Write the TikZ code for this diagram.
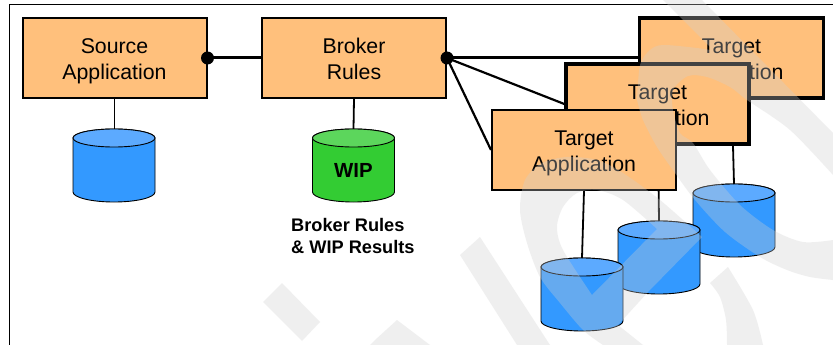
\documentclass[tikz,border=0pt]{standalone}
\usepackage{fontspec}
\setmainfont{Liberation Sans}
\definecolor{boxfill}{HTML}{FFC07C}
\definecolor{dbblue}{HTML}{3399FF}
\definecolor{dbbluetop}{HTML}{5CAAFF}
\definecolor{dbgreen}{HTML}{33CC33}
\definecolor{dbgreentop}{HTML}{5CD65C}
\definecolor{wm}{HTML}{D0D0D0}
\tikzset{
  appbox/.style={draw=black,fill=boxfill,line width=2pt,minimum width=184pt,minimum height=80pt,inner sep=0pt},
  apptext/.style={align=center,font=\fontsize{21.3pt}{26pt}\selectfont,inner sep=0pt,yshift=-3.5pt},
  wire/.style={draw=black,line width=3pt},
  slant wire/.style={draw=black,line width=2.2pt},
  thin wire/.style={draw=black,line width=1.8pt},
  joint/.style={circle,fill=black,minimum size=13pt,inner sep=0pt},
  wmark/.style={fill=wm,fill opacity=.32,draw=none},
}
\newcommand{\dbcyl}[5]{% name, cx, top y, fill, top fill
  \path[draw=black,line width=.9pt,fill=#4]
    (#2-41,#3+9) -- (#2-41,#3+63) arc[start angle=180,end angle=0,x radius=41,y radius=10] -- (#2+41,#3+9) arc[start angle=0,end angle=-180,x radius=41,y radius=9] -- cycle;
  \path[draw=black,line width=.9pt,fill=#5] (#2,#3+9) ellipse[x radius=41,y radius=9];
  \coordinate (#1) at (#2,#3);
}
\begin{document}
\begin{tikzpicture}[x=1pt,y=-1pt]
\useasboundingbox (0,0) rectangle (833,345);
\fill[white] (0,0) rectangle (833,345);
\draw[black,line width=.7pt] (9.5,345) -- (9.5,4.5) -- (833,4.5);

\node[appbox] (src) at (114.5,58) {};
\node[apptext] (srct) at (src.center) {Source\\Application};
\node[appbox] (brk) at (354,58) {};
\node[apptext,yshift=3pt] (brkt) at (brk.center) {Broker\\Rules};
\coordinate (dotA) at (207.5,58);
\coordinate (dotB) at (447,58);

\draw[wire] (dotA) -- (brk.west);
\draw[thin wire] (src.south) -- (114.5,129);
\draw[thin wire] (brk.south) -- (353.5,129);

\node[appbox,line width=3.8pt] (t3) at (731.5,58) {};
\node[apptext] (t3t) at (t3.center) {Target\\Application};
\draw[wire] (dotB) -- (t3.west);
\dbcyl{c3}{734}{184}{dbblue}{dbbluetop}
\draw[thin wire] (733,146) -- (c3);
\node[appbox,line width=3.4pt,minimum width=183pt] (t2) at (657.5,104) {};
\node[apptext] (t2t) at (t2.center) {Target\\Application};
\draw[slant wire] (dotB) -- (t2.west);
\dbcyl{c2}{659}{221}{dbblue}{dbbluetop}
\draw[thin wire] (658.5,180) -- (c2);
\node[appbox] (t1) at (584,150) {};
\node[apptext] (t1t) at (t1.center) {Target\\Application};
\draw[slant wire] (dotB) -- (t1.west);
\dbcyl{c1}{582}{258}{dbblue}{dbbluetop}
\draw[thin wire] (t1.south) -- (c1);

\dbcyl{c0}{114}{129}{dbblue}{dbbluetop}
\dbcyl{cw}{353.5}{129}{dbgreen}{dbgreentop}
\node[font=\bfseries\fontsize{20.4pt}{24pt}\selectfont] (wip) at (353.5,170) {WIP};
\node[anchor=north west,align=left,inner sep=0pt,font=\bfseries\fontsize{18.2pt}{22pt}\selectfont] (cap) at (291,218) {Broker Rules\\\& WIP Results};
\node[joint] (ja) at (dotA) {};
\node[joint] (jb) at (dotB) {};

% watermark
\fill[wmark]
  plot[smooth] coordinates {(637,100) (643,120) (657,147) (675,173) (695,200) (725,232) (760,257) (787,270) (810,277) (833,280)}
  -- plot[smooth] coordinates {(833,240) (803,242) (773,230) (740,205) (710,170) (693,143) (680,133) (673,110) (673,90) (688,76) (707,77) (730,87) (747,100) (790,130) (833,175)}
  -- (833,133) -- (702,0) -- (663,0) -- (710,47)
  -- plot[smooth] coordinates {(710,50) (697,48) (663,45) (650,50) (640,65) (637,100)} -- cycle;
\fill[wmark,even odd rule]
  plot[smooth] coordinates {(603,345) (583,330) (560,303) (540,277) (527,243) (520,210) (525,180) (542,163) (567,157) (597,160) (623,173) (660,200) (702,237)}
  -- (648,292) -- (618,325) -- (643,345) -- cycle
  plot[smooth] coordinates {(592,295) (563,250) (557,227) (563,207) (577,193) (597,190) (623,200) (657,229)} -- cycle;
\fill[wmark] (460,255) -- (480,237) -- (550,345) -- (517,345) -- cycle;
\fill[wmark] (263,302) -- (282,283) -- (320,322) -- (302,341) -- cycle;
\fill[wmark] (375,340) -- (397,320) -- (430,345) -- (370,345) -- cycle;
\fill[wmark] plot[smooth] coordinates {(710,283) (720,297) (726,320) (727,345)} -- plot[smooth] coordinates {(763,345) (753,310) (728,267)} -- cycle;
\end{tikzpicture}
\end{document}
